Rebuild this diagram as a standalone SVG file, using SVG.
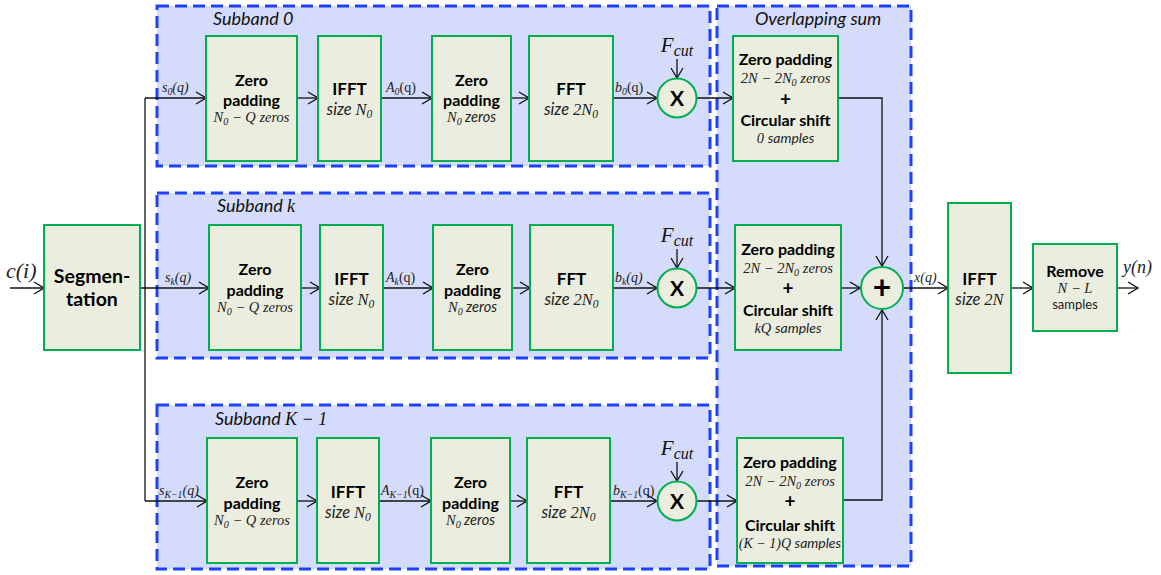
<svg xmlns="http://www.w3.org/2000/svg" width="1161" height="575" viewBox="0 0 1161 575">
<defs>
<marker id="arr" viewBox="0 0 12 14" refX="11" refY="7" markerWidth="12" markerHeight="14" markerUnits="userSpaceOnUse" orient="auto">
<path d="M1,1 L11,7 L1,13" fill="none" stroke="#111" stroke-width="1.3"/>
</marker>
<style>
.grp{fill:#D5DCFB;stroke:#1E40FF;stroke-width:3;stroke-dasharray:12 6}
.blk{fill:#EBEEDF;stroke:#00B050;stroke-width:2}
.op{fill:#EBEEDF;stroke:#00B050;stroke-width:2}
.ln{fill:none;stroke:#111;stroke-width:1.3}
.ar{fill:none;stroke:#111;stroke-width:1.3;marker-end:url(#arr)}
.b{font-family:Lato,"Liberation Sans",sans-serif;font-weight:bold;font-size:16px;text-anchor:middle;fill:#000}
.bb{font-family:Lato,"Liberation Sans",sans-serif;font-weight:bold;font-size:17px;text-anchor:middle;fill:#000}
.seg{font-size:19.5px}
.xx{font-size:21px}
.pl{font-size:19px}
.big{font-size:32px}
.m{font-family:"Liberation Serif",serif;font-style:italic;font-size:14.5px;text-anchor:middle;fill:#222}
.sm{font-size:14px}
.kq{font-size:14px}
.ms{font-family:"Liberation Serif",serif;font-style:italic;font-size:16.5px;text-anchor:middle;fill:#222}
.it{font-family:Lato,"Liberation Sans",sans-serif;font-style:italic}
.lab{font-family:"Liberation Serif",serif;font-style:italic;font-size:14px;fill:#222}
.ttl{font-family:Lato,"Liberation Sans",sans-serif;font-style:italic;font-size:18px;fill:#111}
.fc{font-family:"Liberation Serif",serif;font-style:italic;font-size:21px;text-anchor:middle;fill:#111}
.sub{font-size:70%}
</style>
</defs>

<g id="groups">
<rect id="grp-subband0" class="grp" x="157" y="6" width="553" height="160"/>
<rect id="grp-subbandk" class="grp" x="157" y="193" width="553" height="165"/>
<rect id="grp-subbandK1" class="grp" x="157" y="405" width="553" height="164"/>
<rect id="grp-overlap" class="grp" x="717" y="6" width="194" height="560"/>
<text class="ttl" x="213" y="25">Subband 0</text>
<text class="ttl" x="217" y="212">Subband <tspan font-family="Liberation Serif">k</tspan></text>
<text class="ttl" x="215" y="425">Subband <tspan font-family="Liberation Serif">K − 1</tspan></text>
<text class="ttl" x="755" y="25">Overlapping sum</text>
</g>

<g id="connectors">
<line class="ar" x1="10" y1="288" x2="44" y2="288"/>
<line class="ar" x1="140" y1="288" x2="209" y2="288"/>
<line class="ln" x1="145" y1="98" x2="145" y2="501"/>
<line class="ar" x1="145" y1="98" x2="206" y2="98"/>
<line class="ar" x1="145" y1="501" x2="207" y2="501"/>
<line class="ar" x1="297" y1="98" x2="318" y2="98"/>
<line class="ar" x1="381" y1="98" x2="432" y2="98"/>
<line class="ar" x1="511" y1="98" x2="529" y2="98"/>
<line class="ar" x1="613" y1="98" x2="657" y2="98"/>
<line class="ar" x1="677" y1="59" x2="677" y2="78"/>
<line class="ar" x1="697" y1="98" x2="733" y2="98"/>
<polyline class="ar" points="838,98 882,98 882,266"/>
<line class="ar" x1="301" y1="288" x2="320" y2="288"/>
<line class="ar" x1="383" y1="288" x2="433" y2="288"/>
<line class="ar" x1="512" y1="288" x2="530" y2="288"/>
<line class="ar" x1="613" y1="288" x2="657" y2="288"/>
<line class="ar" x1="677" y1="249" x2="677" y2="268"/>
<line class="ar" x1="697" y1="288" x2="735" y2="288"/>
<line class="ar" x1="841" y1="288" x2="860" y2="288"/>
<line class="ar" x1="297" y1="501" x2="317" y2="501"/>
<line class="ar" x1="379" y1="501" x2="431" y2="501"/>
<line class="ar" x1="510" y1="501" x2="527" y2="501"/>
<line class="ar" x1="610" y1="501" x2="657" y2="501"/>
<line class="ar" x1="677" y1="462" x2="677" y2="481"/>
<line class="ar" x1="697" y1="501" x2="737" y2="501"/>
<polyline class="ar" points="843,500 882,500 882,310"/>
<line class="ar" x1="903" y1="288" x2="948" y2="288"/>
<line class="ar" x1="1011" y1="288" x2="1033" y2="288"/>
<line class="ar" x1="1117" y1="288" x2="1138" y2="288"/>
</g>

<g id="labels">
<text x="6" y="278" font-family="Liberation Serif, serif" font-style="italic" font-size="22" fill="#222">c(i)</text>
<text x="1123" y="273" font-family="Liberation Serif, serif" font-style="italic" font-size="18" fill="#222">y(n)</text>
<text class="lab" x="914" y="282">x(q)</text>
<text class="lab" x="162" y="92">s<tspan class="sub" dy="3">0</tspan><tspan dy="-3">(q)</tspan></text>
<text class="lab" x="386" y="92">A<tspan class="sub" dy="3">0</tspan><tspan dy="-3" font-style="normal">(q)</tspan></text>
<text class="lab" x="615" y="92">b<tspan class="sub" dy="3">0</tspan><tspan dy="-3" font-style="normal">(q)</tspan></text>
<text class="lab" x="165" y="282">s<tspan class="sub" dy="3">k</tspan><tspan dy="-3">(q)</tspan></text>
<text class="lab" x="386" y="282">A<tspan class="sub" dy="3">k</tspan><tspan dy="-3" font-style="normal">(q)</tspan></text>
<text class="lab" x="615" y="282">b<tspan class="sub" dy="3">k</tspan><tspan dy="-3">(q)</tspan></text>
<text class="lab" x="159" y="495">s<tspan class="sub" dy="3">K−1</tspan><tspan dy="-3">(q)</tspan></text>
<text class="lab" x="381" y="495">A<tspan class="sub" dy="3">K−1</tspan><tspan dy="-3" font-style="normal">(q)</tspan></text>
<text class="lab" x="613" y="495">b<tspan class="sub" dy="3">K−1</tspan><tspan dy="-3" font-style="normal">(q)</tspan></text>
<text class="fc" x="677" y="52">F<tspan font-size="16" dy="4">cut</tspan></text>
<text class="fc" x="677" y="242">F<tspan font-size="16" dy="4">cut</tspan></text>
<text class="fc" x="677" y="455">F<tspan font-size="16" dy="4">cut</tspan></text>
</g>

<g id="segmentation">
<rect class="blk" x="44" y="225" width="96" height="125"/>
<text class="bb seg" x="92" y="283">Segmen-</text>
<text class="bb seg" x="92" y="306">tation</text>
</g>

<g id="zp1-0"><rect class="blk" x="206" y="36" width="91" height="125"/>
<text class="b" x="251.5" y="86">Zero</text><text class="b" x="251.5" y="106">padding</text>
<text class="m" x="251.5" y="122">N<tspan class="sub" dy="3">0</tspan><tspan dy="-3"> − Q zeros</tspan></text></g>
<g id="ifft-0"><rect class="blk" x="318" y="36" width="63" height="125"/>
<text class="bb" x="349.5" y="95">IFFT</text>
<text class="ms" x="349.5" y="115"><tspan class="it">size </tspan>N<tspan class="sub" dy="3">0</tspan></text></g>
<g id="zp2-0"><rect class="blk" x="432" y="36" width="79" height="125"/>
<text class="b" x="471.5" y="86">Zero</text><text class="b" x="471.5" y="106">padding</text>
<text class="m" x="471.5" y="122">N<tspan class="sub" dy="3">0</tspan><tspan class="it" dy="-3"> zeros</tspan></text></g>
<g id="fft-0"><rect class="blk" x="529" y="36" width="84" height="125"/>
<text class="bb" x="571" y="95">FFT</text>
<text class="ms" x="571" y="115"><tspan class="it">size </tspan>2N<tspan class="sub" dy="3">0</tspan></text></g>
<g id="mul-0"><circle class="op" cx="677" cy="98" r="19.5"/>
<text class="bb xx" x="677" y="106">X</text></g>
<g id="ov-0"><rect class="blk" x="733" y="36" width="105" height="125"/>
<text class="b" x="785.5" y="65">Zero padding</text>
<text class="m" x="785.5" y="83">2N − 2N<tspan class="sub" dy="3">0</tspan><tspan dy="-3"> zeros</tspan></text>
<text class="bb pl" x="785.5" y="106">+</text>
<text class="b" x="785.5" y="126">Circular shift</text>
<text class="m" x="785.5" y="143">0 <tspan class="it sm">samples</tspan></text></g>

<g id="zp1-k"><rect class="blk" x="209" y="225" width="92" height="125"/>
<text class="b" x="255" y="275">Zero</text><text class="b" x="255" y="296">padding</text>
<text class="m" x="255" y="312">N<tspan class="sub" dy="3">0</tspan><tspan dy="-3"> − Q zeros</tspan></text></g>
<g id="ifft-k"><rect class="blk" x="320" y="225" width="63" height="125"/>
<text class="bb" x="351.5" y="285">IFFT</text>
<text class="ms" x="351.5" y="305"><tspan class="it">size </tspan>N<tspan class="sub" dy="3">0</tspan></text></g>
<g id="zp2-k"><rect class="blk" x="433" y="225" width="79" height="125"/>
<text class="b" x="472.5" y="275">Zero</text><text class="b" x="472.5" y="296">padding</text>
<text class="m" x="472.5" y="312">N<tspan class="sub" dy="3">0</tspan><tspan class="it" dy="-3"> zeros</tspan></text></g>
<g id="fft-k"><rect class="blk" x="530" y="225" width="83" height="125"/>
<text class="bb" x="571.5" y="285">FFT</text>
<text class="ms" x="571.5" y="305"><tspan class="it">size </tspan>2N<tspan class="sub" dy="3">0</tspan></text></g>
<g id="mul-k"><circle class="op" cx="677" cy="288" r="19.5"/>
<text class="bb xx" x="677" y="296">X</text></g>
<g id="ov-k"><rect class="blk" x="735" y="225" width="106" height="125"/>
<text class="b" x="788" y="255">Zero padding</text>
<text class="m" x="788" y="273">2N − 2N<tspan class="sub" dy="3">0</tspan><tspan dy="-3"> zeros</tspan></text>
<text class="bb pl" x="788" y="295">+</text>
<text class="b" x="788" y="316">Circular shift</text>
<text class="m" x="788" y="333">kQ <tspan class="it sm">samples</tspan></text></g>
<g id="sum"><circle class="op" cx="882" cy="288" r="21"/>
<text class="bb big" x="882" y="299">+</text></g>

<g id="zp1-K1"><rect class="blk" x="207" y="438" width="90" height="125"/>
<text class="b" x="252" y="488">Zero</text><text class="b" x="252" y="509">padding</text>
<text class="m" x="252" y="525">N<tspan class="sub" dy="3">0</tspan><tspan dy="-3"> − Q zeros</tspan></text></g>
<g id="ifft-K1"><rect class="blk" x="317" y="438" width="62" height="125"/>
<text class="bb" x="348" y="498">IFFT</text>
<text class="ms" x="348" y="518"><tspan class="it">size </tspan>N<tspan class="sub" dy="3">0</tspan></text></g>
<g id="zp2-K1"><rect class="blk" x="431" y="438" width="79" height="125"/>
<text class="b" x="470.5" y="488">Zero</text><text class="b" x="470.5" y="509">padding</text>
<text class="m" x="470.5" y="525">N<tspan class="sub" dy="3">0</tspan><tspan class="it" dy="-3"> zeros</tspan></text></g>
<g id="fft-K1"><rect class="blk" x="527" y="438" width="83" height="125"/>
<text class="bb" x="568.5" y="498">FFT</text>
<text class="ms" x="568.5" y="518"><tspan class="it">size </tspan>2N<tspan class="sub" dy="3">0</tspan></text></g>
<g id="mul-K1"><circle class="op" cx="677" cy="501" r="19.5"/>
<text class="bb xx" x="677" y="509">X</text></g>
<g id="ov-K1"><rect class="blk" x="737" y="438" width="106" height="125"/>
<text class="b" x="790" y="468">Zero padding</text>
<text class="m" x="790" y="486">2N − 2N<tspan class="sub" dy="3">0</tspan><tspan dy="-3"> zeros</tspan></text>
<text class="bb pl" x="790" y="508">+</text>
<text class="b" x="790" y="531">Circular shift</text>
<text class="m kq" x="790" y="548">(K − 1)Q <tspan class="it">samples</tspan></text></g>

<g id="ifft-2n"><rect class="blk" x="948" y="203" width="63" height="170"/>
<text class="bb" x="979.5" y="285">IFFT</text>
<text class="ms" x="979.5" y="305"><tspan class="it">size </tspan>2N</text></g>
<g id="remove"><rect class="blk" x="1033" y="244" width="84" height="87"/>
<text class="b" x="1075" y="277">Remove</text>
<text class="m" x="1075" y="293">N − L</text>
<text x="1075" y="309" font-family="Lato, Liberation Sans, sans-serif" font-size="13" text-anchor="middle" fill="#222">samples</text></g>
</svg>
